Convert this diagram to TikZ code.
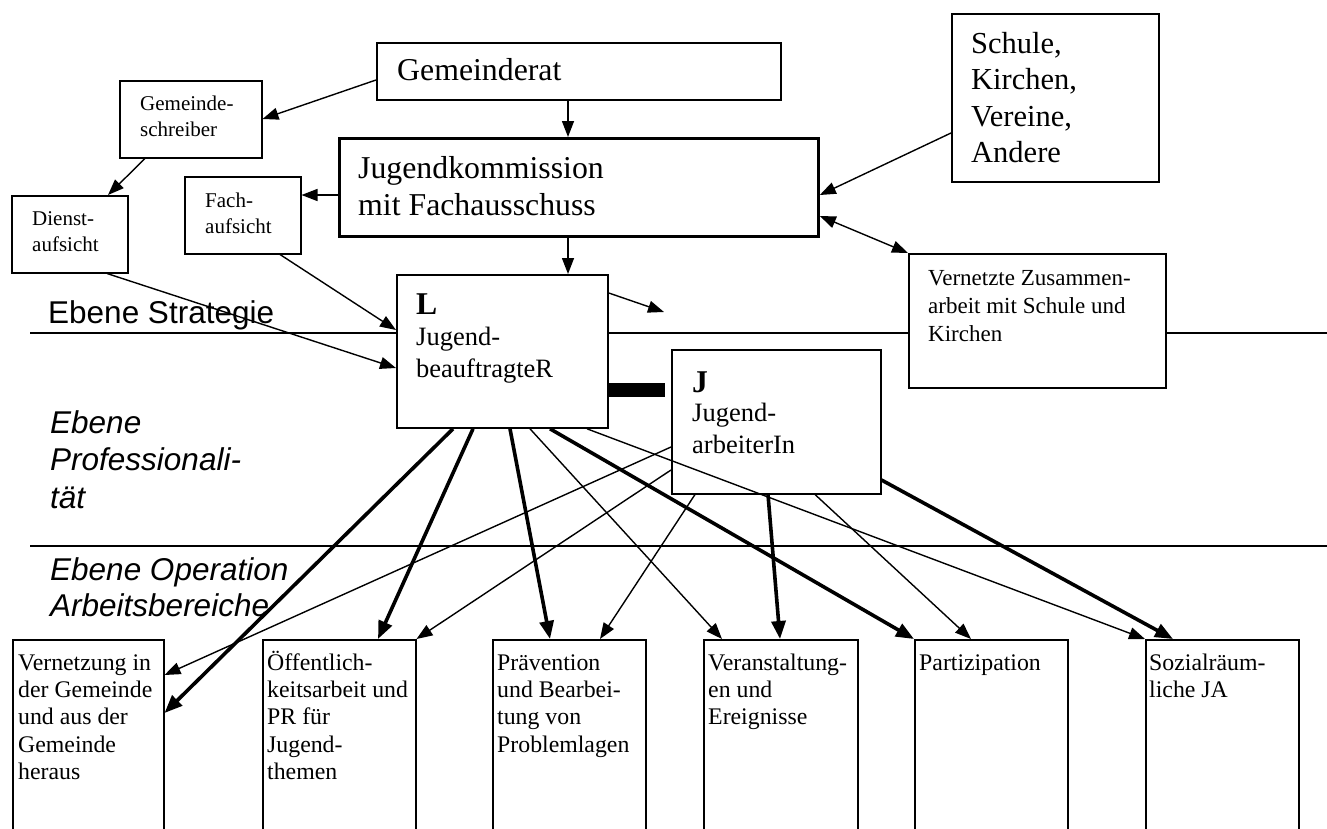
\documentclass[tikz,border=0pt]{standalone}
\usepackage{fontspec}
\setmainfont{Liberation Serif}
\newfontfamily\arialf{Liberation Sans}
\usetikzlibrary{arrows.meta}
\newcommand{\mlines}[1]{\begin{tabular}[t]{@{}l@{}}#1\end{tabular}}
\begin{document}
\begin{tikzpicture}[x=1bp,y=-1bp,
  box/.style={draw, line width=1.5bp, fill=white, inner sep=0pt, anchor=north west},
  txt/.style={inner sep=0pt, anchor=base west},
  conthin/.style={line width=1.4bp, -{Triangle[length=16bp,width=12bp]}},
  conthick/.style={line width=3.6bp, -{Triangle[length=18bp,width=14bp]}},
  rulel/.style={line width=1.5bp},
  lab/.style={txt, font=\arialf\fontsize{31.5bp}{38bp}\selectfont},
  labit/.style={txt, font=\arialf\itshape\fontsize{31.5bp}{37.5bp}\selectfont},
  bigf/.style={txt, font=\fontsize{31.8bp}{37bp}\selectfont},
  smallf/.style={txt, font=\fontsize{21bp}{26bp}\selectfont},
  midf/.style={txt, font=\fontsize{26.5bp}{32bp}\selectfont},
  botf/.style={txt, font=\fontsize{23.8bp}{27.4bp}\selectfont},
]
\useasboundingbox (0,0) rectangle (1327,828);

% level rules
\draw[rulel] (30,333) -- (1327,333);
\draw[rulel] (30,546) -- (1327,546);

% level labels
\node[lab] (l-strat) at (48,323) {Ebene Strategie};
\node[labit] (l-prof) at (50,433) {\mlines{Ebene\\Professionali-\\tät}};
\node[labit, font=\arialf\itshape\fontsize{31.5bp}{36bp}\selectfont] (l-oper) at (50,580) {\mlines{Ebene Operation\\Arbeitsbereiche}};

% boxes
\node[box, minimum width=404bp, minimum height=57bp] (gr) at (376,42) {};
\node[box, minimum width=142bp, minimum height=77bp] (gs) at (119,80) {};
\node[box, line width=2.8bp, minimum width=479bp, minimum height=98bp] (jk) at (338,137) {};
\node[box, minimum width=207bp, minimum height=168bp] (sk) at (951,13) {};
\node[box, minimum width=116bp, minimum height=77bp] (fa) at (184,176) {};
\node[box, minimum width=116bp, minimum height=77bp] (da) at (11,195) {};
\node[box, line width=1.8bp, minimum width=211bp, minimum height=153bp] (L) at (396,274) {};
\node[box, minimum width=257bp, minimum height=134bp] (vz) at (908,253) {};
\node[box, minimum width=209bp, minimum height=144bp] (J) at (671,349) {};
\node[box, draw=none, fill=black, minimum width=57bp, minimum height=14bp] (bar) at (607,382) {};
\node[box, minimum width=151bp, minimum height=200bp] (b1) at (12,639) {};
\node[box, minimum width=153bp, minimum height=200bp] (b2) at (262,639) {};
\node[box, minimum width=153bp, minimum height=200bp] (b3) at (492,639) {};
\node[box, minimum width=154bp, minimum height=200bp] (b4) at (703,639) {};
\node[box, minimum width=153bp, minimum height=200bp] (b5) at (914,639) {};
\node[box, minimum width=153bp, minimum height=200bp] (b6) at (1145,639) {};

% box texts
\node[bigf] (t-gr) at (397,80) {Gemeinderat};
\node[bigf] (t-jk) at (358,178) {\mlines{Jugendkommission\\mit Fachausschuss}};
\node[txt, font=\fontsize{30.5bp}{36.5bp}\selectfont] (t-sk) at (971,53) {\mlines{Schule,\\Kirchen,\\Vereine,\\Andere}};
\node[smallf] (t-gs) at (140,110) {\mlines{Gemeinde-\\schreiber}};
\node[smallf] (t-da) at (32,225) {\mlines{Dienst-\\aufsicht}};
\node[smallf] (t-fa) at (205,207) {\mlines{Fach-\\aufsicht}};
\node[txt, font=\bfseries\fontsize{31.7bp}{32bp}\selectfont] (t-L1) at (416,314) {L};
\node[midf] (t-L2) at (416,345) {\mlines{Jugend-\\beauftragteR}};
\node[txt, font=\bfseries\fontsize{31.7bp}{32bp}\selectfont] (t-J1) at (692,392) {J};
\node[midf] (t-J2) at (692,421) {\mlines{Jugend-\\arbeiterIn}};
\node[txt, font=\fontsize{23bp}{28bp}\selectfont] (t-vz) at (928,285) {\mlines{Vernetzte Zusammen-\\arbeit mit Schule und\\Kirchen}};
\node[botf] (t-b1) at (18,670) {\mlines{Vernetzung in\\der Gemeinde\\und aus der\\Gemeinde\\heraus}};
\node[botf] (t-b2) at (267,670) {\mlines{Öffentlich-\\keitsarbeit und\\PR für\\Jugend-\\themen}};
\node[botf] (t-b3) at (497,670) {\mlines{Prävention\\und Bearbei-\\tung von\\Problemlagen}};
\node[botf] (t-b4) at (708,670) {\mlines{Veranstaltung-\\en und\\Ereignisse}};
\node[botf] (t-b5) at (919,670) {Partizipation};
\node[botf] (t-b6) at (1149,670) {\mlines{Sozialräum-\\liche JA}};

% upper connectors
\draw[conthin] (gr.west |- 0,80) -- (gs.east |- 0,119);
\draw[conthin] (gr.south -| 568,0) -- (jk.north -| 568,0);
\draw[conthin] (gs.south -| 145,0) -- (da.north -| 108,0);
\draw[conthin] (jk.west |- 0,195) -- (fa.east |- 0,195);
\draw[conthin] (fa.south -| 280,0) -- (L.west |- 0,330);
\draw[conthin] (da.south -| 107,0) -- (L.west |- 0,368);
\draw[conthin] (jk.south -| 568,0) -- (L.north -| 568,0);
\draw[conthin] (sk.west |- 0,133) -- (jk.east |- 0,195);
\draw[line width=1.4bp, {Triangle[length=16bp,width=12bp]}-{Triangle[length=16bp,width=12bp]}] (jk.east |- 0,216) -- (vz.north west);
\coordinate (lfree) at (664,312);
\draw[conthin] (L.east |- 0,293) -- (lfree);

% from L
\draw[conthick] (L.south -| 453,0) -- (b1.east |- 0,713);
\draw[conthick] (L.south -| 473,0) -- (b2.north -| 378,0);
\draw[conthick] (L.south -| 510,0) -- (b3.north -| 550,0);
\draw[conthin]  (L.south -| 530,0) -- (b4.north -| 722,0);
\draw[conthick] (L.south -| 550,0) -- (b5.north west);
\draw[conthin]  (L.south -| 587,0) -- (b6.north west);

% from J
\draw[conthin]  (J.west |- 0,447) -- (b1.east |- 0,675);
\draw[conthin]  (J.west |- 0,470) -- (b2.north east);
\draw[conthin]  (J.south -| 695,0) -- (b3.north -| 600,0);
\draw[conthick] (J.south -| 768,0) -- (b4.north -| 780,0);
\draw[conthin]  (J.south -| 815,0) -- (b5.north -| 971,0);
\draw[conthick] (J.east |- 0,480) -- (b6.north -| 1173,0);
\end{tikzpicture}
\end{document}
